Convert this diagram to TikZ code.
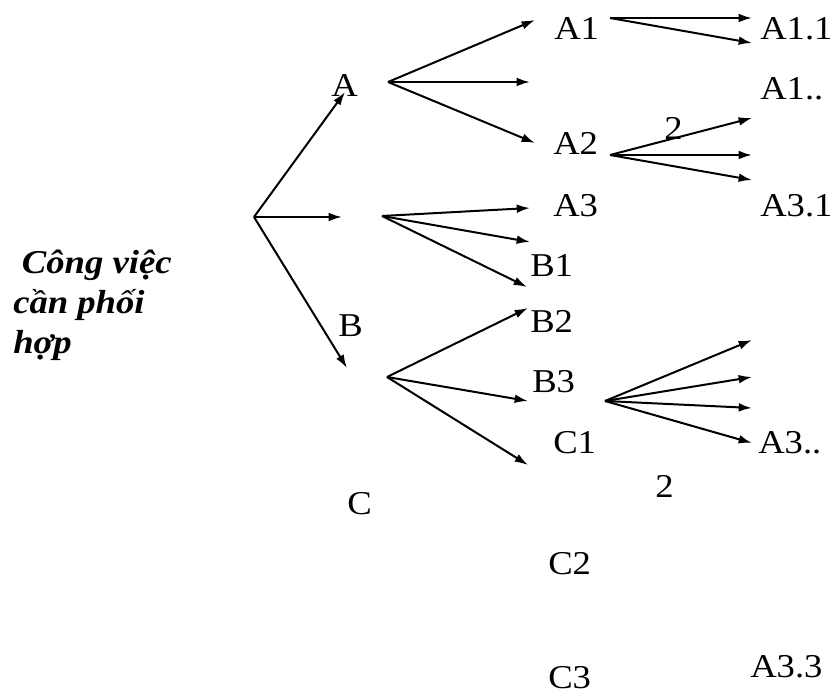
\documentclass[tikz,border=0pt]{standalone}
\usepackage{fontspec}
\setmainfont[FakeStretch=1.1]{Liberation Serif}
\usetikzlibrary{arrows.meta,positioning}
\tikzset{
  >={Latex[length=10pt,width=6.5pt]},
  % --- nodes
  lbl/.style  = {anchor=base west, inner sep=0pt, font=\fontsize{25}{30}\selectfont},
  task/.style = {lbl, align=left, font=\fontsize{25}{30}\selectfont\bfseries\itshape},
  % --- edges
  e/.style    = {->, line width=1.5pt},
}
\begin{document}
\begin{tikzpicture}[x=0.75pt,y=-0.75pt]
  \useasboundingbox (0,0) rectangle (833,695);
  % labels
  \node[task] (task) at (13,354) {\hspace*{6.5pt}Công việc\\cần phối\\hợp};
  \node[lbl] (a)    at (331,97)  {A};
  \node[lbl] (b)    at (338,337) {B};
  \node[lbl] (c)    at (347,515) {C};
  \node[lbl] (a1)   at (554,40)  {A1};
  \node[lbl] (a11)  at (760,40)  {A1.1};
  \node[lbl] (a1x)  at (760,100) {A1..};
  \node[lbl] (two1) at (664,140) {2};
  \node[lbl] (a2)   at (553,155) {A2};
  \node[lbl] (a3)   at (553,217) {A3};
  \node[lbl] (a31)  at (760,217) {A3.1};
  \node[lbl] (b1)   at (530,277) {B1};
  \node[lbl] (b2)   at (530,333) {B2};
  \node[lbl] (b3)   at (532,393) {B3};
  \node[lbl] (c1)   at (553,454) {C1};
  \node[lbl] (a3x)  at (758,454) {A3..};
  \node[lbl] (two2) at (655,498) {2};
  \node[lbl] (c2)   at (548,575) {C2};
  \node[lbl] (c3)   at (548,688) {C3};
  \node[lbl] (a33)  at (750,677) {A3.3};
  % fork points
  \coordinate (root) at (254,217);
  \coordinate (fa)   at (388,82);
  \coordinate (fm)   at (382,216);
  \coordinate (fb)   at (387,377);
  \coordinate (fa1)  at (610,18);
  \coordinate (fa2)  at (610,155);
  \coordinate (fc1)  at (605,401);
  % arrow ends
  \coordinate (r1) at (345,92);  \coordinate (r2) at (342,217); \coordinate (r3) at (347,368);
  \coordinate (p1) at (535,20);  \coordinate (p2) at (530,82);  \coordinate (p3) at (535,143);
  \coordinate (m1) at (530,208); \coordinate (m2) at (530,242); \coordinate (m3) at (527,287);
  \coordinate (q1) at (528,308); \coordinate (q2) at (528,401); \coordinate (q3) at (528,465);
  \coordinate (u1) at (752,18);  \coordinate (u2) at (752,43);
  \coordinate (v1) at (752,118); \coordinate (v2) at (752,155); \coordinate (v3) at (752,180);
  \coordinate (w1) at (752,340); \coordinate (w2) at (752,377);
  \coordinate (w3) at (752,408); \coordinate (w4) at (752,443);
  \foreach \a/\b in {root/r1,root/r2,root/r3,fa/p1,fa/p2,fa/p3,fm/m1,fm/m2,fm/m3,
                     fb/q1,fb/q2,fb/q3,fa1/u1,fa1/u2,fa2/v1,fa2/v2,fa2/v3,
                     fc1/w1,fc1/w2,fc1/w3,fc1/w4}
    \draw[e] (\a) -- (\b);
\end{tikzpicture}
\end{document}
